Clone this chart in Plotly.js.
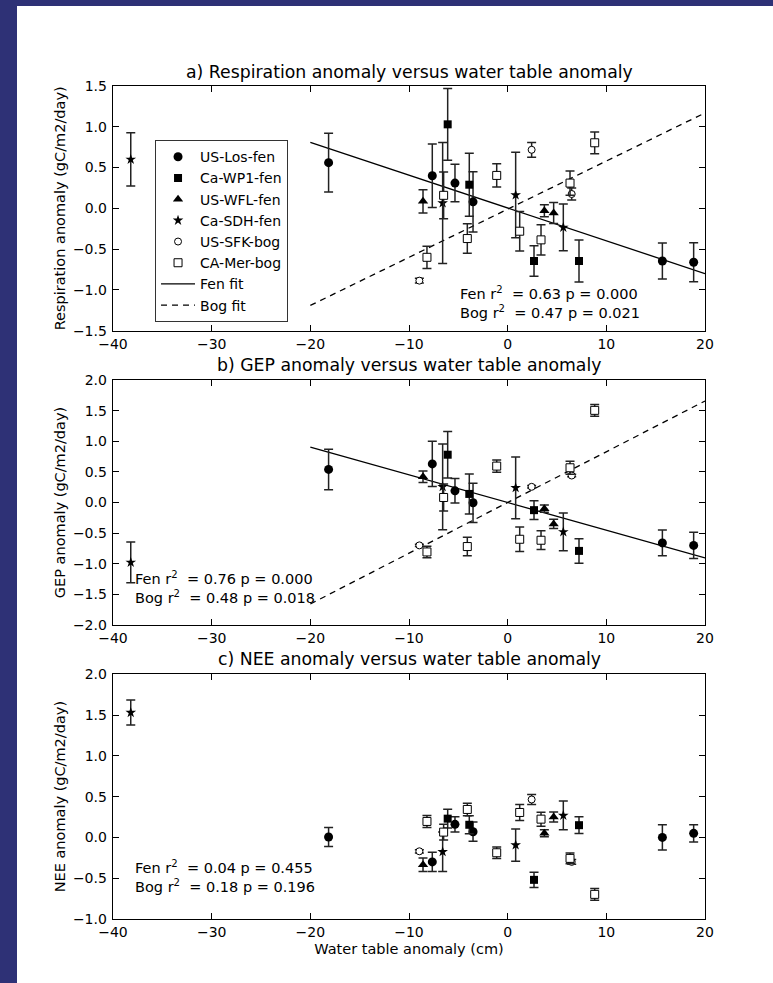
<!DOCTYPE html>
<html>
<head>
<meta charset="utf-8">
<script src="https://cdn.plot.ly/plotly-3.0.1.min.js"></script>
<style>
  html, body { margin: 0; padding: 0; width: 773px; height: 983px; background: #ffffff; overflow: hidden; }
  #topband { position: absolute; left: 0; top: 0; width: 773px; height: 6px; background: #2e3176; }
  #leftband { position: absolute; left: 0; top: 0; width: 17px; height: 983px; background: #2e3176; }
  #chart { position: absolute; left: 17px; top: 6px; width: 756px; height: 977px; background: #ffffff; }
</style>
</head>
<body>
<div id="topband"></div>
<div id="leftband"></div>
<div id="chart"></div>
<script>
// ---------------- DATA ----------------
const siteNames = ["US-Los-fen", "Ca-WP1-fen", "US-WFL-fen", "Ca-SDH-fen", "US-SFK-bog", "CA-Mer-bog"];

// water table anomaly (cm) per site-year
const xLos = [-18.15, -7.64, -5.34, -3.51, 15.68, 18.85];
const xWP1 = [-6.08, -3.89, 2.67, 7.23];
const xWFL = [-8.58, 3.72, 4.66];
const xSDH = [-38.2, -6.59, 0.81, 5.64];
const xSFK = [-8.95, 2.43, 6.49];
const xMer = [-8.18, -6.49, -4.09, -1.11, 1.22, 3.38, 6.32, 8.82];

// a) respiration anomaly (gC/m2/day) and error
const respLos = [0.56, 0.40, 0.31, 0.08, -0.645, -0.66];
const respLosErr = [0.36, 0.39, 0.23, 0.37, 0.22, 0.24];
const respWP1 = [1.03, 0.29, -0.645, -0.645];
const respWP1Err = [0.44, 0.386, 0.188, 0.257];
const respWFL = [0.086, -0.03, -0.057];
const respWFLErr = [0.143, 0.073, 0.129];
const respSDH = [0.60, 0.065, 0.163, -0.233];
const respSDHErr = [0.327, 0.741, 0.524, 0.286];
const respSFK = [-0.886, 0.718, 0.176];
const respSFKErr = [0.03, 0.09, 0.073];
const respMer = [-0.60, 0.16, -0.37, 0.404, -0.28, -0.386, 0.31, 0.804];
const respMerErr = [0.137, 0.286, 0.18, 0.143, 0.243, 0.186, 0.149, 0.133];

// b) GEP anomaly
const gepLos = [0.54, 0.63, 0.19, -0.005, -0.66, -0.70];
const gepLosErr = [0.33, 0.37, 0.20, 0.32, 0.21, 0.215];
const gepWP1 = [0.78, 0.14, -0.125, -0.79];
const gepWP1Err = [0.38, 0.327, 0.153, 0.2];
const gepWFL = [0.42, -0.10, -0.35];
const gepWFLErr = [0.095, 0.06, 0.076];
const gepSDH = [-0.977, 0.256, 0.24, -0.48];
const gepSDHErr = [0.332, 0.70, 0.504, 0.308];
const gepSFK = [-0.70, 0.256, 0.44];
const gepSFKErr = [0.02, 0.02, 0.02];
const gepMer = [-0.807, 0.082, -0.719, 0.594, -0.60, -0.616, 0.567, 1.504];
const gepMerErr = [0.095, 0.22, 0.15, 0.1, 0.2, 0.153, 0.106, 0.095];

// c) NEE anomaly
const neeLos = [0.005, -0.30, 0.16, 0.07, 0.0, 0.05];
const neeLosErr = [0.116, 0.118, 0.094, 0.118, 0.155, 0.106];
const neeWP1 = [0.23, 0.155, -0.52, 0.15];
const neeWP1Err = [0.116, 0.11, 0.094, 0.102];
const neeWFL = [-0.335, 0.05, 0.25];
const neeWFLErr = [0.082, 0.043, 0.061];
const neeSDH = [1.53, -0.176, -0.094, 0.269];
const neeSDHErr = [0.153, 0.243, 0.198, 0.176];
const neeSFK = [-0.17, 0.465, -0.30];
const neeSFKErr = [0.02, 0.06, 0.03];
const neeMer = [0.196, 0.065, 0.343, -0.188, 0.306, 0.224, -0.257, -0.698];
const neeMerErr = [0.073, 0.096, 0.076, 0.069, 0.098, 0.086, 0.065, 0.073];

// fit lines
const fitX = [-20, 20];
const fenFitResp = [0.81, -0.80];
const bogFitResp = [-1.19, 1.17];
const fenFitGep = [0.905, -0.905];
const bogFitGep = [-1.657, 1.657];

// statistics text
const statsResp = ["Fen r<sup>2</sup>\u00a0 = 0.63 p = 0.000", "Bog r<sup>2</sup>\u00a0 = 0.47 p = 0.021"];
const statsGep  = ["Fen r<sup>2</sup>\u00a0 = 0.76 p = 0.000", "Bog r<sup>2</sup>\u00a0 = 0.48 p = 0.018"];
const statsNee  = ["Fen r<sup>2</sup>\u00a0 = 0.04 p = 0.455", "Bog r<sup>2</sup>\u00a0 = 0.18 p = 0.196"];

const panelTitles = [
  "a) Respiration anomaly versus water table anomaly",
  "b) GEP anomaly versus water table anomaly",
  "c) NEE anomaly versus water table anomaly"
];
const yTitles = ["Respiration anomaly (gC/m2/day)", "GEP anomaly (gC/m2/day)", "NEE anomaly (gC/m2/day)"];
const xTitle = "Water table anomaly (cm)";

// ---------------- STYLE ----------------
const FONT = "DejaVu Sans, Liberation Sans, sans-serif";
const markerStyles = [
  {symbol: "circle", size: 9, color: "#000", line: {color: "#000", width: 0}},
  {symbol: "square", size: 8, color: "#000", line: {color: "#000", width: 0}},
  {symbol: "triangle-up", size: 9, color: "#000", line: {color: "#000", width: 0}},
  {symbol: "star", size: 8, color: "#000", line: {color: "#000", width: 0}},
  {symbol: "circle", size: 7, color: "#fff", line: {color: "#000", width: 1}},
  {symbol: "square", size: 8, color: "#fff", line: {color: "#000", width: 1}}
];

const xs = [xLos, xWP1, xWFL, xSDH, xSFK, xMer];
const panels = [
  {ys: [respLos, respWP1, respWFL, respSDH, respSFK, respMer],
   es: [respLosErr, respWP1Err, respWFLErr, respSDHErr, respSFKErr, respMerErr]},
  {ys: [gepLos, gepWP1, gepWFL, gepSDH, gepSFK, gepMer],
   es: [gepLosErr, gepWP1Err, gepWFLErr, gepSDHErr, gepSFKErr, gepMerErr]},
  {ys: [neeLos, neeWP1, neeWFL, neeSDH, neeSFK, neeMer],
   es: [neeLosErr, neeWP1Err, neeWFLErr, neeSDHErr, neeSFKErr, neeMerErr]}
];

const traces = [];
panels.forEach((p, pi) => {
  const xa = pi === 0 ? "x" : "x" + (pi + 1);
  const ya = pi === 0 ? "y" : "y" + (pi + 1);
  if (pi < 2) {
    const fen = pi === 0 ? fenFitResp : fenFitGep;
    const bog = pi === 0 ? bogFitResp : bogFitGep;
    traces.push({x: fitX, y: fen, xaxis: xa, yaxis: ya, mode: "lines", name: "Fen fit",
      line: {color: "#000", width: 1.3}, showlegend: pi === 0, legendrank: 7, hoverinfo: "skip"});
    traces.push({x: fitX, y: bog, xaxis: xa, yaxis: ya, mode: "lines", name: "Bog fit",
      line: {color: "#000", width: 1.3, dash: "6px,5px"}, showlegend: pi === 0, legendrank: 8, hoverinfo: "skip"});
  }
  siteNames.forEach((nm, si) => {
    traces.push({
      x: xs[si], y: p.ys[si], xaxis: xa, yaxis: ya, mode: "markers", name: nm,
      marker: markerStyles[si], showlegend: pi === 0, legendrank: si + 1,
      cliponaxis: false,
      error_y: {type: "data", array: p.es[si], visible: true, color: "#222", thickness: 1.5, width: 4.5}
    });
  });
});

const axBase = {
  showline: true, mirror: "ticks", linecolor: "#000", linewidth: 1.3,
  ticks: "inside", ticklen: 6, tickwidth: 1, tickcolor: "#000",
  showgrid: false, zeroline: false,
  tickfont: {family: FONT, size: 14, color: "#000"}
};
function xAxis(anchor, withTitle) {
  const a = Object.assign({}, axBase, {anchor: anchor, domain: [0, 1], range: [-40, 20],
    tickmode: "array", tickvals: [-40, -30, -20, -10, 0, 10, 20]});
  if (withTitle) a.title = {text: xTitle, font: {family: FONT, size: 14.5, color: "#000"}, standoff: 4};
  return a;
}
function yAxis(anchor, domain, range, dtick, title) {
  return Object.assign({}, axBase, {anchor: anchor, domain: domain, range: range,
    tick0: range[0], dtick: dtick, tickformat: ".1f", ticklabelstandoff: 2,
    title: {text: title, font: {family: FONT, size: 14.5, color: "#000"}, standoff: 3}});
}

const annotations = [];
const titleY = [1.0168, 0.665, 0.3121];
panelTitles.forEach((t, i) => annotations.push({
  text: t, xref: "paper", yref: "paper", x: 0.5, y: titleY[i], xanchor: "center", yanchor: "middle",
  showarrow: false, font: {family: FONT, size: 17.3, color: "#000"}
}));
function statAnn(txt, xa, ya, x, y) {
  annotations.push({text: txt, xref: xa, yref: ya, x: x, y: y, xanchor: "left", yanchor: "middle",
    showarrow: false, font: {family: FONT, size: 14.5, color: "#000"}});
}
statAnn(statsResp[0], "x", "y", -5.0, -1.035);
statAnn(statsResp[1], "x", "y", -5.0, -1.27);
statAnn(statsGep[0], "x2", "y2", -37.97, -1.238);
statAnn(statsGep[1], "x2", "y2", -37.97, -1.548);
statAnn(statsNee[0], "x3", "y3", -37.97, -0.367);
statAnn(statsNee[1], "x3", "y3", -37.97, -0.60);

const layout = {
  width: 756, height: 977,
  margin: {l: 96, r: 68, t: 80, b: 64},
  paper_bgcolor: "#fff", plot_bgcolor: "#fff",
  font: {family: FONT, color: "#000"},
  showlegend: true,
  legend: {x: 0.071, y: 0.935, xanchor: "left", yanchor: "top",
    bgcolor: "#fff", bordercolor: "#333", borderwidth: 1,
    font: {family: FONT, size: 14, color: "#000"}, traceorder: "normal", itemwidth: 34},
  xaxis: xAxis("y", false),
  yaxis: yAxis("x", [0.7062, 1], [-1.5, 1.5], 0.5, yTitles[0]),
  xaxis2: xAxis("y2", false),
  yaxis2: yAxis("x2", [0.3529, 0.6471], [-2, 2], 0.5, yTitles[1]),
  xaxis3: xAxis("y3", true),
  yaxis3: yAxis("x3", [0, 0.2938], [-1, 2], 0.5, yTitles[2]),
  annotations: annotations
};

Plotly.newPlot("chart", traces, layout, {displayModeBar: false, staticPlot: true});
</script>
</body>
</html>
